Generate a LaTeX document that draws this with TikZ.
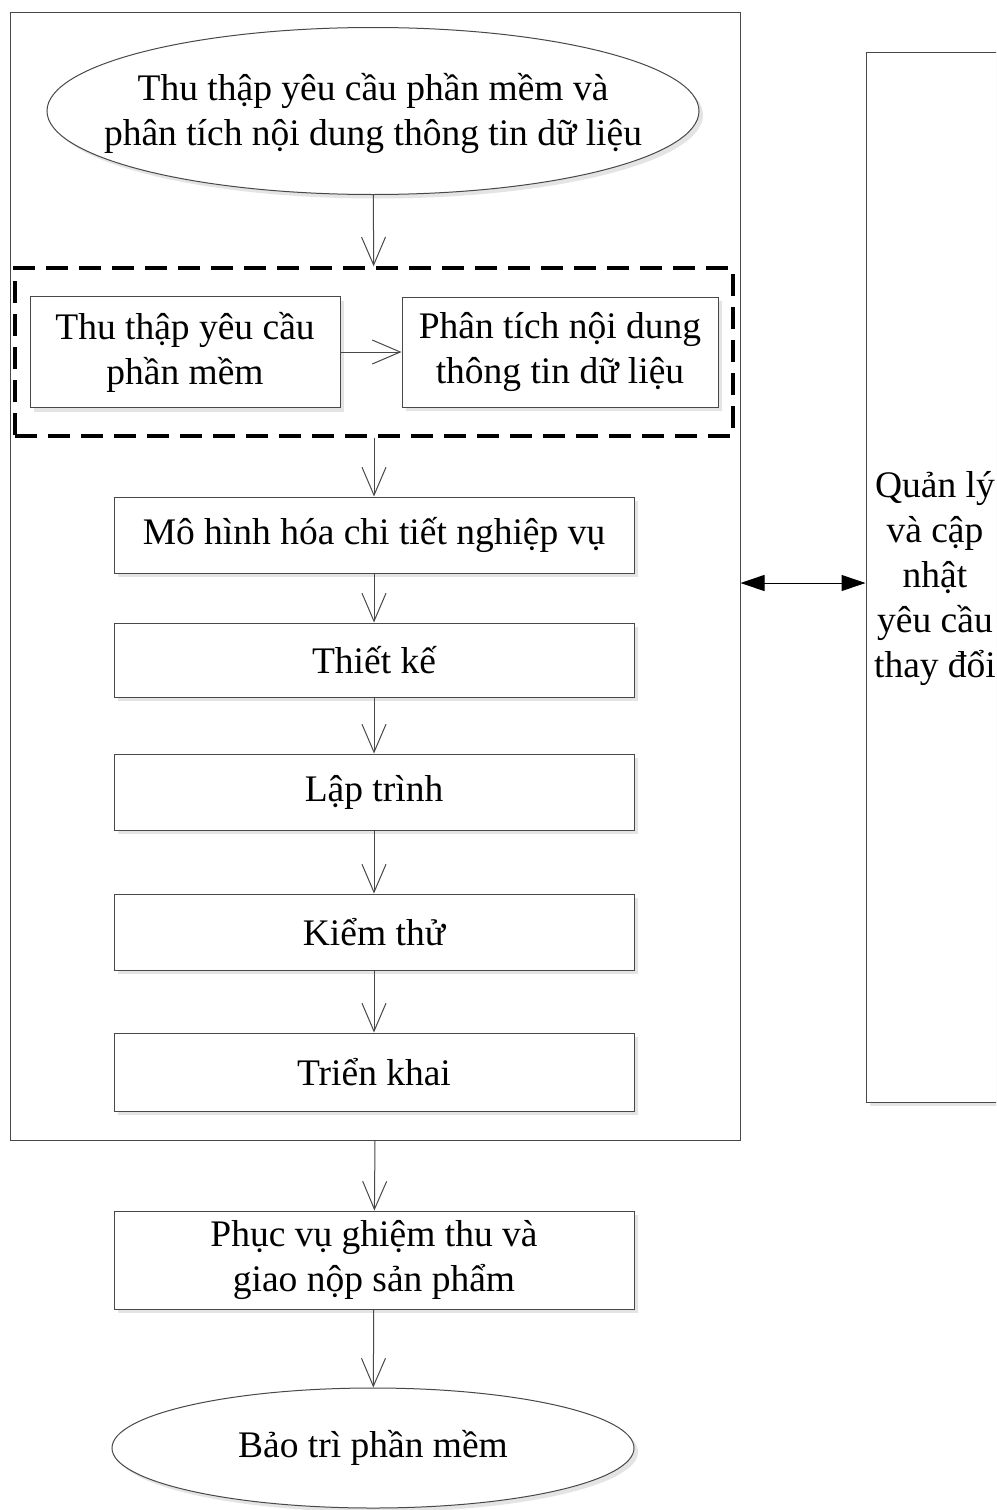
\documentclass[tikz,border=0pt]{standalone}
\usepackage{fontspec}
\setmainfont{Liberation Serif}
\usetikzlibrary{arrows.meta,shapes.geometric,shadows}

\definecolor{lineclr}{HTML}{484848}
\definecolor{shadowclr}{HTML}{E4E4E4}

\tikzset{
  boxshadow/.style={drop shadow={shadow xshift=4pt,shadow yshift=-4pt,fill=shadowclr,opacity=1}},
  stepbox/.style={draw=lineclr,fill=white,boxshadow,minimum width=520pt,minimum height=76pt,align=center},
  ovalbox/.style={ellipse,draw=lineclr,fill=white,boxshadow},
  flow/.style={draw=lineclr,-{Straight Barb[length=28pt,width=24pt]}},
  twoway/.style={draw=black,{Triangle[length=24pt,width=16pt]}-{Triangle[length=24pt,width=16pt]}}
}

\begin{document}
\begin{tikzpicture}[x=1pt,y=-1pt,line width=1pt,font=\fontsize{37.5}{45}\selectfont]
\clip (0,0) rectangle (996,1510);
\fill[white] (0,0) rectangle (996,1510);
% khung ngoai
\node[draw=lineclr,minimum width=730pt,minimum height=1128pt] (frame) at (375,576) {};
\node[ovalbox,minimum width=652pt,minimum height=167pt] (collect) at (373,111) {};
\node[align=center] (collecttxt) at (373,113) {Thu thập yêu cầu phần mềm và\\phân tích nội dung thông tin dữ liệu};
% nhom net dut
\node[draw=black,line width=3.5pt,dash pattern=on 22pt off 11pt,minimum width=718pt,minimum height=168pt] (analysis) at (374,352) {};
\node[stepbox,minimum width=310pt,minimum height=111pt] (gather) at (185,352) {Thu thập yêu cầu\\phần mềm};
\node[stepbox,minimum width=316pt,minimum height=110pt] (parse) at (560,352) {Phân tích nội dung\\thông tin dữ liệu};
% cac buoc
\node[stepbox] (model) at (374,535) {Mô hình hóa chi tiết nghiệp vụ};
\node[stepbox,minimum height=74pt] (design) at (374,660) {Thiết kế};
\node[stepbox] (code) at (374,792) {Lập trình};
\node[stepbox] (test) at (374,932) {Kiểm thử};
\node[stepbox,minimum height=78pt] (deploy) at (374,1072) {Triển khai};
\node[stepbox,minimum height=98pt] (accept) at (374,1260) {Phục vụ ghiệm thu và\\giao nộp sản phẩm};
\node[ovalbox,minimum width=522pt,minimum height=120pt] (maint) at (373,1448) {};
\node (mainttxt) at (maint) {Bảo trì phần mềm};
% khung ben phai
\node[draw=lineclr,fill=white,boxshadow,minimum width=184pt,minimum height=1050pt] (manage) at (958,577) {};
\node[align=center] (managetxt) at (935,579) {Quản lý\\và cập\\nhật\\yêu cầu\\thay đổi};
% mui ten
\draw[flow] (collect) -- (analysis);
\draw[flow] (gather) -- (parse);
\draw[flow] (analysis) -- (model);
\draw[flow] (model) -- (design);
\draw[flow] (design) -- (code);
\draw[flow] (code) -- (test);
\draw[flow] (test) -- (deploy);
\draw[flow] (frame.south) -- (accept);
\draw[flow] (accept) -- (maint);
\draw[twoway] ([yshift=-7pt]frame.east) -- ([yshift=-7pt]frame.east -| manage.west);
\end{tikzpicture}
\end{document}
